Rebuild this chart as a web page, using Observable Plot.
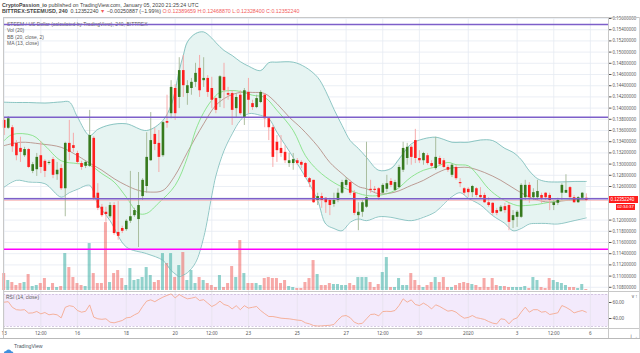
<!DOCTYPE html>
<html><head><meta charset="utf-8">
<script src="https://cdn.jsdelivr.net/npm/d3@7"></script>
<script src="https://cdn.jsdelivr.net/npm/@observablehq/plot@0.6"></script>
<style>
body{margin:0;background:#fff;}
#wrap{position:relative;width:640px;height:353px;overflow:hidden;background:#fff;font-family:"Liberation Sans",Arial,sans-serif;color:#4a4a4a;}
#wrap > *{position:absolute;}
.t{white-space:nowrap;}
.r{color:#f25c5c;}
</style></head><body><div id="wrap"></div>
<script>
// ---------- data (4h candles, Dec 13 2019 00:00 .. Jan 5 2020 20:00) ----------
const opens = [0.1378,0.1364,0.1365,0.1337,0.1328,0.1315,0.1326,0.1287,0.1290,0.1315,
0.1305,0.1301,0.1308,0.1281,0.1292,0.1256,0.1337,0.1333,0.1319,0.1301,
0.1296,0.1296,0.1346,0.1248,0.1223,0.1214,0.1206,0.1226,0.1178,0.1185,
0.1183,0.1198,0.1208,0.1201,0.1242,0.1260,0.1306,0.1353,0.1337,0.1315,
0.1376,0.1390,0.1435,0.1419,0.1467,0.1426,0.1435,0.1446,0.1471,0.1449,
0.1453,0.1435,0.1417,0.1417,0.1455,0.1426,0.1426,0.1399,0.1423,0.1383,
0.1428,0.1408,0.1401,0.1410,0.1423,0.1381,0.1365,0.1339,0.1328,0.1321,
0.1301,0.1301,0.1306,0.1303,0.1301,0.1274,0.1271,0.1235,0.1242,0.1239,
0.1235,0.1228,0.1235,0.1248,0.1262,0.1267,0.1248,0.1208,0.1214,0.1223,
0.1255,0.1255,0.1256,0.1248,0.1255,0.1269,0.1253,0.1258,0.1289,0.1310,
0.1330,0.1342,0.1310,0.1306,0.1315,0.1301,0.1292,0.1310,0.1306,0.1294,
0.1280,0.1294,0.1267,0.1256,0.1255,0.1249,0.1256,0.1244,0.1244,0.1231,
0.1230,0.1217,0.1215,0.1224,0.1226,0.1199,0.1205,0.1205,0.1240,0.1262,
0.1240,0.1240,0.1244,0.1248,0.1244,0.1226,0.1230,0.1248,0.1248,0.1258,
0.1240,0.1231,0.1239,0.12389659];
const highs = [0.1383,0.1385,0.1369,0.1342,0.1348,0.1330,0.1328,0.1303,0.1319,0.1340,
0.1308,0.1306,0.1312,0.1303,0.1299,0.1339,0.1378,0.1355,0.1323,0.1305,
0.1306,0.1396,0.1349,0.1265,0.1228,0.1223,0.1231,0.1231,0.1233,0.1189,
0.1201,0.1287,0.1221,0.1285,0.1274,0.1356,0.1392,0.1364,0.1360,0.1376,
0.1423,0.1449,0.1442,0.1490,0.1494,0.1449,0.1453,0.1480,0.1494,0.1490,
0.1458,0.1455,0.1419,0.1458,0.1480,0.1437,0.1431,0.1426,0.1431,0.1435,
0.1453,0.1414,0.1423,0.1431,0.1426,0.1383,0.1369,0.1351,0.1351,0.1333,
0.1319,0.1319,0.1310,0.1306,0.1303,0.1276,0.1271,0.1248,0.1248,0.1240,
0.1239,0.1248,0.1256,0.1271,0.1276,0.1271,0.1253,0.1231,0.1235,0.1339,
0.1271,0.1260,0.1258,0.1265,0.1280,0.1274,0.1271,0.1298,0.1339,0.1337,
0.1333,0.1362,0.1324,0.1321,0.1319,0.1306,0.1348,0.1314,0.1310,0.1298,
0.1301,0.1298,0.1274,0.1258,0.1258,0.1262,0.1258,0.1258,0.1248,0.1240,
0.1231,0.1221,0.1226,0.1230,0.1230,0.1217,0.1217,0.1265,0.1271,0.1267,
0.1256,0.1271,0.1248,0.1249,0.1248,0.1235,0.1239,0.1265,0.1281,0.1260,
0.1244,0.1242,0.1249,0.12468870];
const lows = [0.1351,0.1362,0.1321,0.1306,0.1303,0.1312,0.1292,0.1283,0.1278,0.1283,
0.1276,0.1298,0.1274,0.1271,0.1253,0.1206,0.1306,0.1321,0.1299,0.1289,
0.1292,0.1294,0.1235,0.1217,0.1205,0.1196,0.1203,0.1173,0.1164,0.1176,
0.1180,0.1194,0.1205,0.1151,0.1235,0.1248,0.1305,0.1324,0.1285,0.1312,
0.1364,0.1381,0.1378,0.1399,0.1419,0.1405,0.1423,0.1437,0.1419,0.1437,
0.1419,0.1399,0.1390,0.1401,0.1399,0.1414,0.1369,0.1383,0.1387,0.1369,
0.1390,0.1396,0.1399,0.1408,0.1365,0.1342,0.1294,0.1303,0.1312,0.1301,
0.1294,0.1289,0.1298,0.1292,0.1274,0.1258,0.1230,0.1226,0.1221,0.1212,
0.1208,0.1223,0.1231,0.1246,0.1258,0.1244,0.1208,0.1181,0.1205,0.1221,
0.1248,0.1249,0.1235,0.1244,0.1249,0.1258,0.1251,0.1256,0.1285,0.1298,
0.1298,0.1301,0.1301,0.1298,0.1298,0.1292,0.1289,0.1296,0.1292,0.1285,
0.1276,0.1271,0.1258,0.1244,0.1240,0.1240,0.1240,0.1239,0.1230,0.1223,
0.1208,0.1208,0.1214,0.1212,0.1181,0.1185,0.1187,0.1203,0.1235,0.1230,
0.1235,0.1235,0.1230,0.1235,0.1217,0.1217,0.1226,0.1235,0.1248,0.1239,
0.1230,0.1230,0.1235,0.12328400];
const closes = [0.1364,0.1381,0.1331,0.1315,0.1321,0.1326,0.1294,0.1299,0.1312,0.1294,
0.1287,0.1303,0.1280,0.1289,0.1256,0.1337,0.1321,0.1328,0.1303,0.1294,
0.1303,0.1351,0.1239,0.1221,0.1208,0.1210,0.1226,0.1176,0.1171,0.1180,
0.1198,0.1206,0.1217,0.1226,0.1271,0.1312,0.1342,0.1335,0.1312,0.1374,
0.1373,0.1437,0.1390,0.1467,0.1440,0.1440,0.1446,0.1462,0.1431,0.1453,
0.1428,0.1414,0.1396,0.1456,0.1431,0.1423,0.1396,0.1419,0.1390,0.1431,
0.1414,0.1401,0.1417,0.1428,0.1381,0.1365,0.1312,0.1324,0.1319,0.1306,
0.1306,0.1308,0.1301,0.1298,0.1276,0.1267,0.1231,0.1242,0.1235,0.1231,
0.1226,0.1235,0.1248,0.1267,0.1271,0.1248,0.1212,0.1214,0.1231,0.1240,
0.1253,0.1253,0.1240,0.1262,0.1265,0.1262,0.1267,0.1294,0.1328,0.1330,
0.1312,0.1310,0.1306,0.1319,0.1301,0.1296,0.1312,0.1299,0.1294,0.1289,
0.1298,0.1274,0.1265,0.1248,0.1249,0.1260,0.1244,0.1240,0.1231,0.1226,
0.1212,0.1212,0.1223,0.1217,0.1196,0.1208,0.1214,0.1262,0.1262,0.1240,
0.1249,0.1251,0.1239,0.1240,0.1235,0.1231,0.1235,0.1262,0.1253,0.1240,
0.1231,0.1240,0.1248,0.12352240];
const volumes = [170,100,80,50,70,80,160,40,50,70,
120,30,70,30,40,370,230,130,70,50,
40,470,170,70,70,680,80,170,200,120,
50,220,100,110,130,230,150,80,100,370,
270,370,130,250,380,100,200,70,130,100,
70,50,30,150,30,70,240,130,500,170,
70,70,70,50,120,130,120,120,70,100,
40,30,20,20,80,120,300,160,50,50,
70,60,60,50,50,70,50,130,130,130,
80,30,60,180,330,30,30,120,50,50,
170,100,50,30,50,80,130,80,130,30,
30,50,70,80,70,60,50,30,120,30,
120,50,40,40,30,30,30,30,40,20,
130,100,30,20,120,100,80,70,50,30,
30,20,60,10];
const rsi = [60.4,61,54,51,50.5,51,46.7,47,48.8,45.8,
47.5,44.6,45.5,44.6,40.8,54,56,55,50,47.9,
49,57,41.7,39.6,39,39.6,35.4,34.6,36,37.5,
40.8,41.5,44.6,47,55,61.7,63.3,61,64,66.7,
68.8,70.8,65.8,70,67,64.6,65.4,66.7,62.5,63.5,
59.2,55,57.5,61.7,57.5,56,52,56,51,56,
53,54,55,50,46,42.5,42.5,41.5,40.4,40,
39.6,38.8,38,37.5,34.6,33.3,31.2,30.6,30.8,31.2,
31.5,32.5,38.3,42.9,43.7,41,35.4,33.3,34,39.6,
45,45.5,43.3,48.7,49,48.7,50,56.2,64.6,60.4,
63.3,57.5,56.2,59.2,56.2,52,57.1,55,52,49.2,
50,47.9,43.7,40.4,41.3,43.7,41,40,38.8,36.2,
34.2,33.3,39.6,38.8,33.3,38.8,40.8,47.9,54.2,47.9,
51,51,47.9,48.7,45,46,47.1,56.2,54,51,
47,48.7,50,47.9];
// Bollinger Bands (20, close, 2) at these candles
const bbIdx = [0,3,6,10,14,16,18,21,23,26,30,35,39,41,42,43,44,45,47,49,51,52,54,56,58,60,63,65,67,71,74,77,79,81,83,85,87,89,92,95,97,100,103,106,108,110,112,114,117,120,123,125,127,129,131,133,136,140,143];
const bbUpper = [0.14105,0.1410,0.1410,0.1409,0.1411,0.1411,0.1384,0.1351,0.1362,0.1370,
0.1372,0.1360,0.1378,0.1405,0.1431,0.1467,0.1494,0.1518,0.1533,0.1536,
0.1525,0.1517,0.1503,0.1494,0.1483,0.1475,0.1467,0.1481,0.1482,0.1482,
0.1473,0.1455,0.1430,0.1398,0.1369,0.1342,0.1328,0.1312,0.1289,0.1292,
0.1309,0.1336,0.1345,0.1348,0.1344,0.1339,0.1339,0.1339,0.1343,0.1342,
0.1328,0.1321,0.1308,0.1288,0.1274,0.1269,0.1268,0.1269,0.1269];
const bbLower = [0.1259,0.1271,0.1268,0.1265,0.1241,0.1249,0.1255,0.1262,0.1229,0.1199,
0.1152,0.1140,0.1128,0.1110,0.1104,0.1099,0.1102,0.1106,0.1124,0.1169,
0.1244,0.1279,0.1324,0.1354,0.1378,0.1390,0.1387,0.1381,0.1357,0.1312,
0.1277,0.1235,0.1193,0.1185,0.1181,0.1196,0.1202,0.1199,0.1206,0.1205,
0.1202,0.1199,0.1205,0.1215,0.1229,0.1242,0.1249,0.1239,0.1227,0.1208,
0.1194,0.1181,0.1185,0.1193,0.1194,0.1194,0.1193,0.1199,0.1204];
const basisIdx = [0,4,9,14,18,20,24,27,30,33,36,39,42,45,49,52,55,58,61,64,67,70,73,77,80,83,87,89,92,96,100,103,106,109,112,114,118,122,126,130,134,138,143];
const basisVal = [0.1333,0.1339,0.1336,0.1330,0.1315,0.1306,0.1289,0.1274,0.1262,0.1253,
0.1250,0.1253,0.1280,0.1321,0.1372,0.1405,0.1421,0.1428,0.1428,0.1426,
0.1408,0.1384,0.1364,0.1332,0.1303,0.1283,0.1260,0.1256,0.1247,0.1250,
0.1262,0.1271,0.1283,0.1292,0.1294,0.1294,0.1285,0.1271,0.1253,0.1238,
0.1232,0.1235,0.1236];
// MA (13, close)
const maIdx = [0,2,7,10,14,18,21,24,27,30,33,35,38,42,45,47,49,51,53,57,61,64,67,71,74,77,81,85,89,92,96,100,103,106,109,111,114,116,119,122,126,128,131,134,137,143];
const maVal = [0.1342,0.1353,0.1351,0.1333,0.1306,0.1301,0.1298,0.1283,0.1268,0.1241,
0.1212,0.1212,0.1231,0.1262,0.1312,0.1360,0.1392,0.1414,0.1428,0.1431,
0.1423,0.1419,0.1396,0.1360,0.1315,0.1289,0.1267,0.1253,0.1244,0.1244,
0.1253,0.1277,0.1289,0.1295,0.1303,0.1299,0.1297,0.1283,0.1256,0.1239,
0.1226,0.1226,0.1228,0.1232,0.1235,0.1238];
const purpleLevels = [0.15493, 0.13838, 0.12380];
const magentaLevels = [0.11480];
const priceTicks = [0.108,0.110,0.112,0.114,0.116,0.118,0.120,0.122,0.124,0.126,0.128,0.130,0.132,0.134,0.136,0.138,0.140,0.142,0.144,0.146,0.148,0.150,0.152,0.154,0.156];
const timeTickIdx = [0,9,18,30,42,51,60,72,84,93,102,114,126,135,144];
const timeTickLabels = ["13","12:00","16","18","20","12:00","23","25","27","12:00","30","2020","3","12:00","6"];
const rsiTicks = [40, 60];
const rsiBand = [30, 70];
const countdown = "02:34:37";

// ---------- rows ----------
const candles = opens.map((o, i) => ({i, o, h: highs[i], l: lows[i], c: closes[i], v: volumes[i], up: closes[i] >= o}));
const upC = candles.filter(d => d.up), dnC = candles.filter(d => !d.up);
const bbRows = bbIdx.map((i, k) => ({i, up: bbUpper[k], lo: bbLower[k]}));
const basisRows = basisIdx.map((i, k) => ({i, v: basisVal[k]}));
const maRows = maIdx.map((i, k) => ({i, v: maVal[k]}));
const rsiRows = rsi.map((v, i) => ({i, v}));
const last = candles[candles.length - 1];
// axis labels hidden behind the last-price / countdown tags
const labelTicks = priceTicks.filter(t => t > last.c + 0.0007 || t < last.c - 0.0017);

const xDomain = [-0.17, 148.45];
const yDomain = [0.10725, 0.15618];
const common = {width: 640, height: 274, marginLeft: 3, marginRight: 32, marginTop: 0, marginBottom: 0,
  x: {domain: xDomain, axis: null}, y: {domain: yDomain, axis: null},
  style: {background: "transparent", overflow: "visible"}};

const wrap = document.getElementById("wrap");
function put(el, left, top) { el.style.left = left + "px"; el.style.top = top + "px"; wrap.appendChild(el); return el; }
function div(html, left, top, css) { const d = document.createElement("div"); d.className = "t"; d.innerHTML = html; if (css) d.style.cssText += css; return put(d, left, top); }

// background layer: grid + band fill
const bg = Plot.plot({...common, marks: [
  Plot.gridY(priceTicks, {stroke: "#e6ebf2", strokeOpacity: 1, strokeWidth: 0.8}),
  Plot.gridX(timeTickIdx, {stroke: "#e6ebf2", strokeOpacity: 1, strokeWidth: 0.8}),
  Plot.areaY(bbRows, {x: "i", y1: "lo", y2: "up", fill: "#e6f4f2", curve: "catmull-rom"})
]});
put(bg, 0, 17);

// volume layer
const vol = Plot.plot({width: 640, height: 273, marginLeft: 3, marginRight: 32, marginTop: 0, marginBottom: 0,
  x: {domain: xDomain, axis: null}, y: {domain: [0, d3.max(volumes) * 4.02], axis: null},
  style: {background: "transparent"},
  marks: [
    Plot.rectY(upC, {x1: d => d.i - 0.37, x2: d => d.i + 0.37, y: "v", fill: "#26a69a", fillOpacity: 0.5}),
    Plot.rectY(dnC, {x1: d => d.i - 0.37, x2: d => d.i + 0.37, y: "v", fill: "#ef5350", fillOpacity: 0.5})
  ]});
put(vol, 0, 17);

// legends (drawn under the drawings)
const lg = "font-size:5px;line-height:6px;color:#5d5d5d;";
div("STEEM / US Dollar (calculated by TradingView), 240, BITTREX", 7, 21, lg);
div("Vol (20)", 7, 27.3, lg);
div("BB (20, close, 2)", 7, 33.7, lg);
div("MA (13, close)", 7, 40.3, lg);

// foreground layer
const fg = Plot.plot({...common, marks: [
  Plot.line(bbRows, {x: "i", y: "up", stroke: "#74b9b6", strokeWidth: 0.8, curve: "catmull-rom"}),
  Plot.line(bbRows, {x: "i", y: "lo", stroke: "#74b9b6", strokeWidth: 0.8, curve: "catmull-rom"}),
  Plot.line(basisRows, {x: "i", y: "v", stroke: "#a9756c", strokeWidth: 0.7, curve: "catmull-rom"}),
  Plot.line(maRows, {x: "i", y: "v", stroke: "#78e078", strokeWidth: 0.8, curve: "catmull-rom"}),
  Plot.ruleY([last.c], {stroke: "#f7b0b0", strokeWidth: 0.8}),
  Plot.ruleX(upC, {x: "i", y1: "l", y2: "h", stroke: "#a3b795", strokeWidth: 0.9}),
  Plot.ruleX(dnC, {x: "i", y1: "l", y2: "h", stroke: "#f6a3a3", strokeWidth: 0.9}),
  Plot.ruleX(upC, {x: "i", y1: "o", y2: "c", stroke: "#377a1e", strokeWidth: 2.6}),
  Plot.ruleX(dnC, {x: "i", y1: "o", y2: "c", stroke: "#ff1f1f", strokeWidth: 2.6}),
  Plot.ruleY(purpleLevels, {stroke: "#7d5fc9", strokeWidth: 1.5}),
  Plot.ruleY(magentaLevels, {stroke: "#ff00ff", strokeWidth: 1.5}),
  Plot.axisY({anchor: "right", ticks: labelTicks, tickFormat: d3.format(".8f"), tickSize: 2.5, tickPadding: 1.5, fontSize: 4.4, color: "#555"})
]});
put(fg, 0, 17);

// RSI pane + time axis
const rp = Plot.plot({width: 640, height: 49, marginLeft: 3, marginRight: 32, marginTop: 0, marginBottom: 12,
  x: {domain: xDomain, axis: null}, y: {domain: [27.5, 73.75], axis: null},
  style: {background: "transparent", overflow: "visible"},
  marks: [
    Plot.rect([rsiBand], {x1: xDomain[0], x2: xDomain[1], y1: d => d[0], y2: d => d[1], fill: "#f3eafc"}),
    Plot.gridX(timeTickIdx, {stroke: "#e6e2ee", strokeOpacity: 1, strokeWidth: 0.8}),
    Plot.ruleY(rsiBand, {stroke: "#c4b3d6", strokeWidth: 0.7, strokeDasharray: "2,1.5"}),
    Plot.line(rsiRows, {x: "i", y: "v", stroke: "#f5a283", strokeWidth: 0.8}),
    Plot.axisY({anchor: "right", ticks: rsiTicks, tickFormat: d3.format(".2f"), tickSize: 2.5, tickPadding: 1.5, fontSize: 4.6, color: "#555"}),
    Plot.axisX({anchor: "bottom", ticks: timeTickIdx, tickFormat: i => timeTickLabels[timeTickIdx.indexOf(i)], tickSize: 0, tickPadding: 3, fontSize: 4.6, color: "#555"})
  ]});
put(rp, 0, 291);
div("RSI (14, close)", 6, 294, "font-size:5px;line-height:6px;color:#5d5d5d;");

// frame lines
function hline(y, x0, x1, c) { const d = document.createElement("div"); d.style.cssText = `height:0;width:${x1 - x0}px;border-top:1px solid ${c};`; put(d, x0, y); }
function vline(x, y0, y1, c) { const d = document.createElement("div"); d.style.cssText = `width:0;height:${y1 - y0}px;border-left:1px solid ${c};`; put(d, x, y0); }
hline(16.5, 2.5, 640, "#c8c8c8");
hline(290.5, 2.5, 640, "#c8c8c8");
hline(328, 2.5, 640, "#c8c8c8");
hline(338, 0, 640, "#b9b9b9");
vline(2.5, 16.5, 338, "#c8c8c8");
vline(607.5, 16.5, 338, "#c8c8c8");
vline(639, 16.5, 338, "#d4d4d4");

// last price tag + countdown (positioned through the price scale)
const yLast = fg.scale("y").apply(last.c) + 17;
div(d3.format(".8f")(last.c), 608.5, yLast - 3.5, "font-size:4.5px;line-height:7px;height:7px;width:29px;padding-left:2px;box-sizing:border-box;background:#ff1e1e;color:#fff;");
div(countdown, 616, yLast + 4.3, "font-size:4.3px;line-height:5.5px;height:5.5px;width:19px;text-align:center;background:#ff1e1e;color:#fff;");

// header
const hs = "font-size:5.3px;line-height:6px;color:#444;";
div("<b>CryptoPassion_io</b> published on TradingView.com, January 05, 2020 21:25:24 UTC", 2, 2, hs);
div("<b>BITTREX:STEEMUSD, 240</b>&nbsp; 0.12352240 <span class='r'>▼</span> −0.00250887 (−1.99%) <span class='r'>O:0.12389659 H:0.12468870 L:0.12328400 C:0.12352240</span>", 2, 8.3, hs);

// TradingView logo
const logo = document.createElement("div");
logo.innerHTML = `<svg width="11" height="7" viewBox="0 0 11 7"><g fill="#3f8fdc"><circle cx="3" cy="4.3" r="2.2"/><circle cx="5.6" cy="3" r="2.6"/><circle cx="8.3" cy="4.4" r="2.1"/><rect x="3" y="4.5" width="5.3" height="2"/></g></svg>`;
put(logo, 3, 341.5);
div("TradingView", 14, 342.5, "font-size:5.2px;line-height:6px;color:#4b5563;");
</script></body></html>
